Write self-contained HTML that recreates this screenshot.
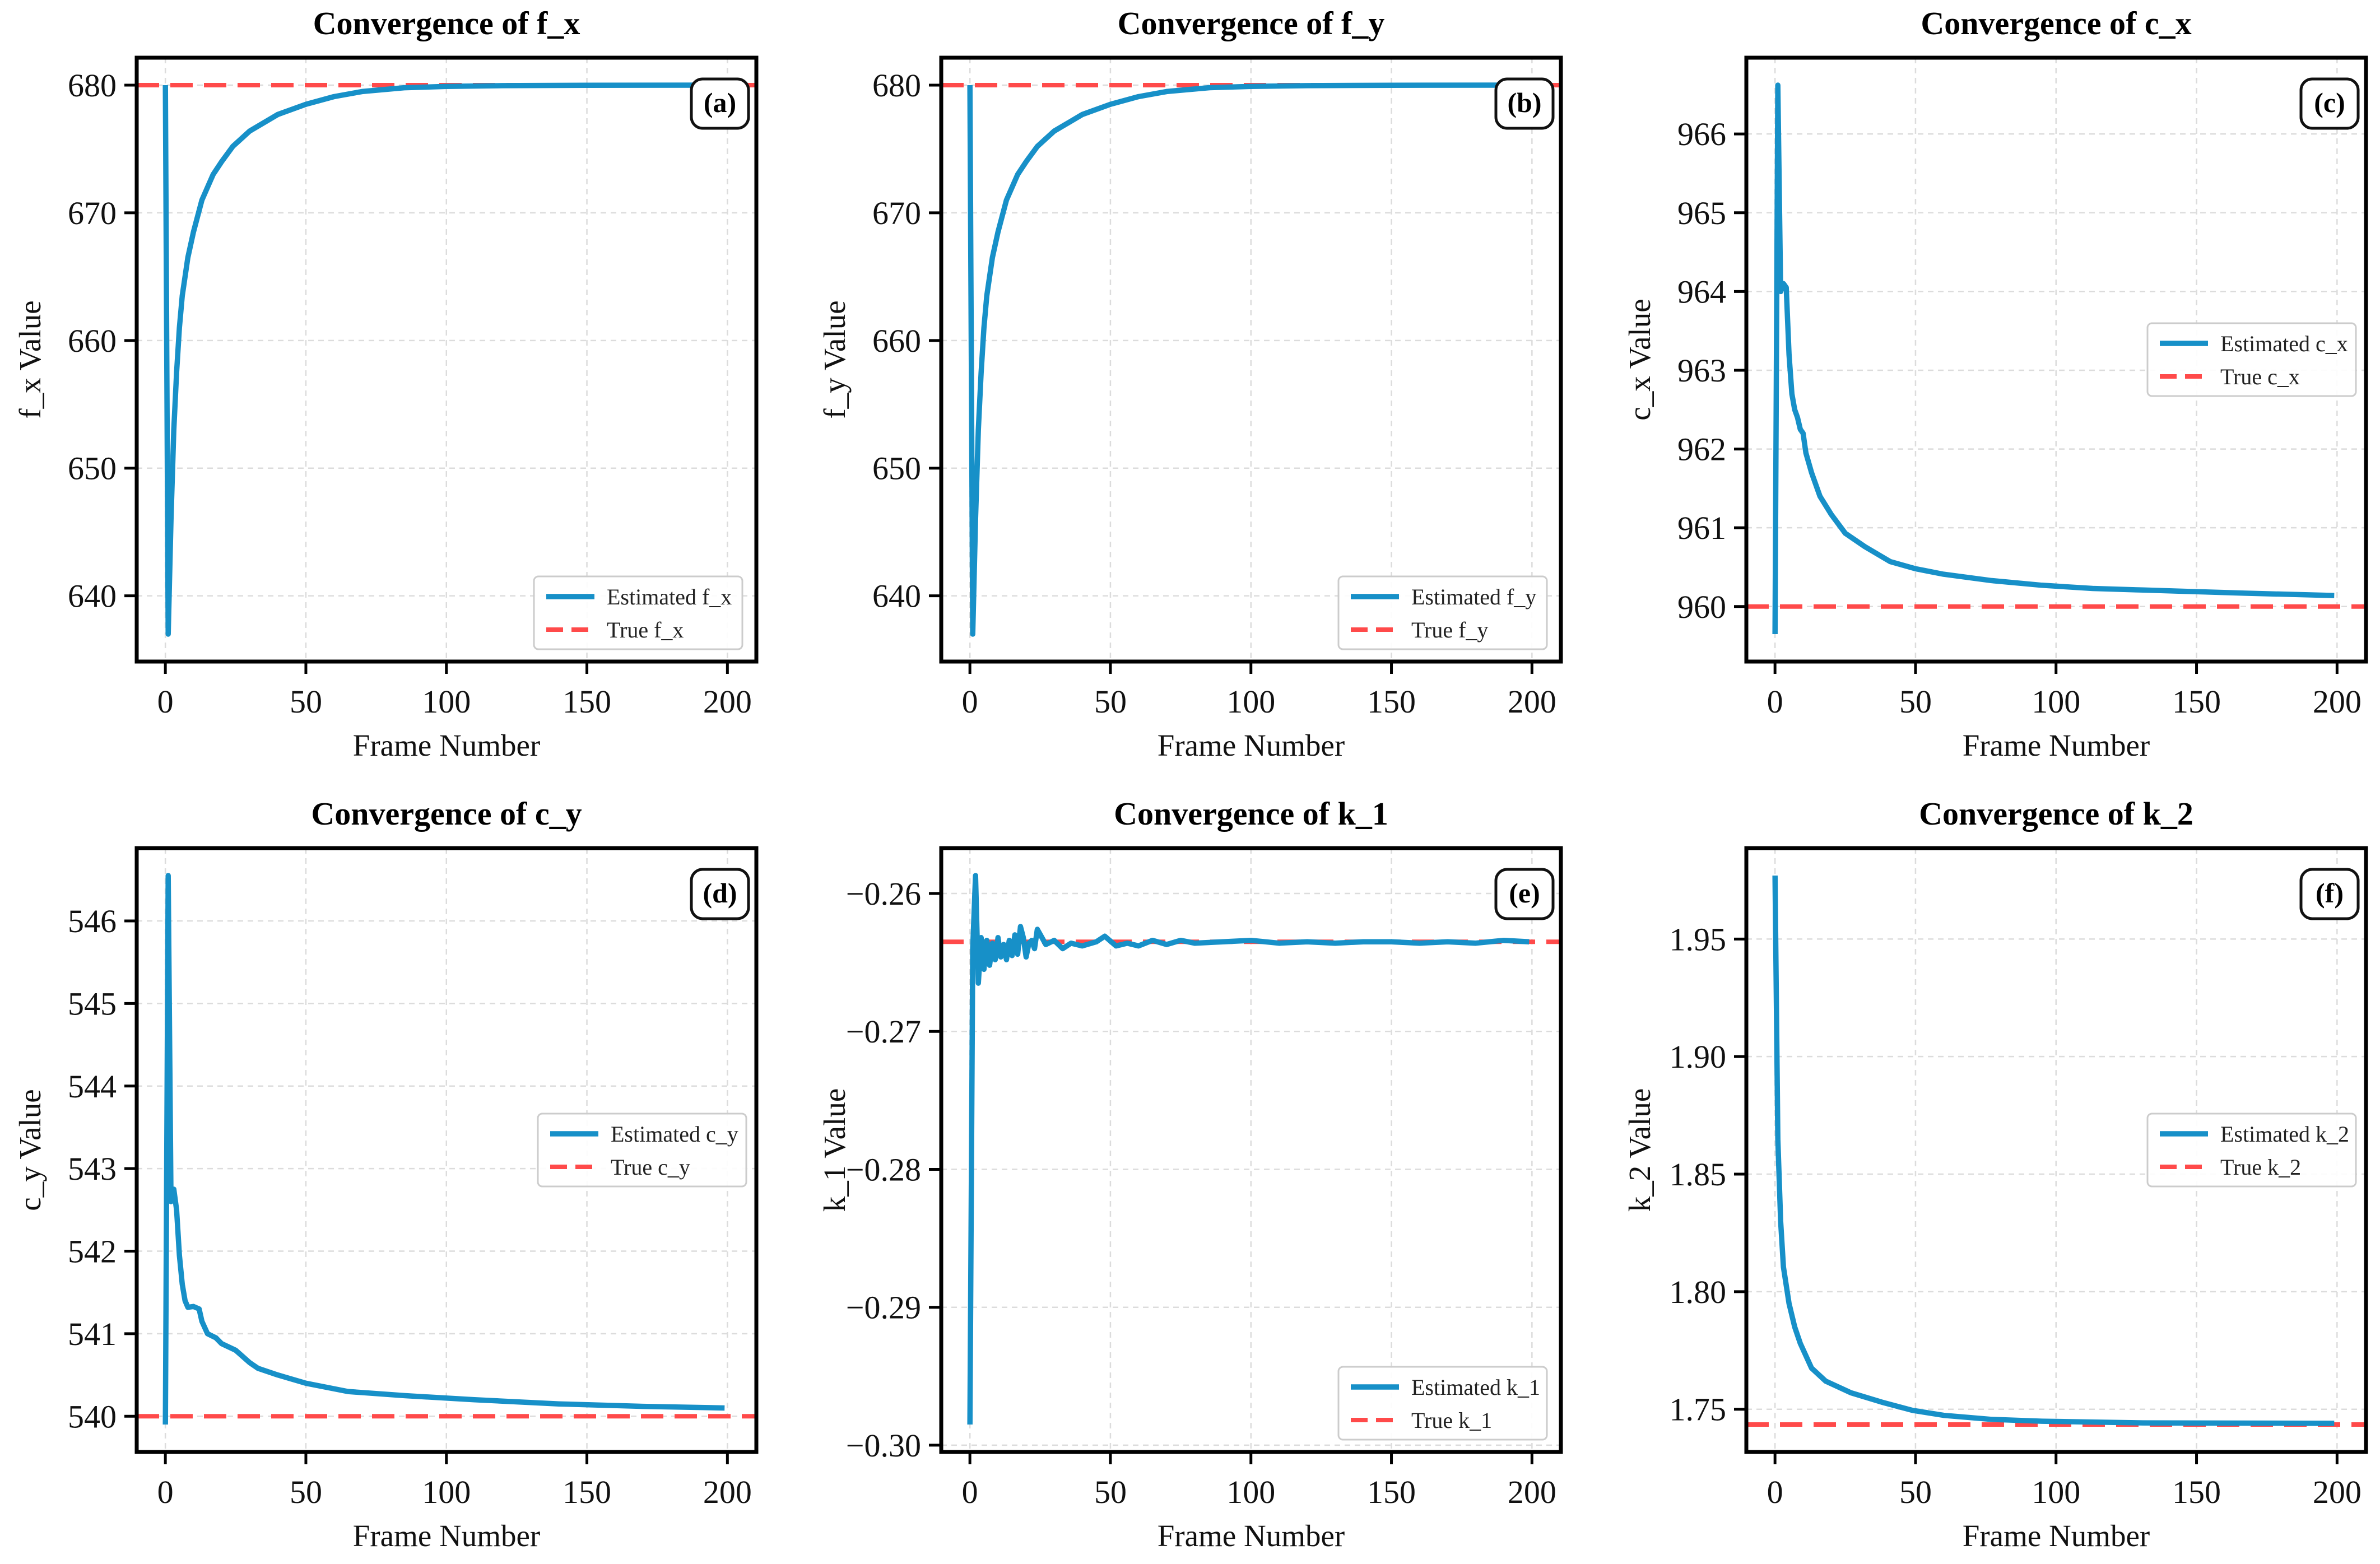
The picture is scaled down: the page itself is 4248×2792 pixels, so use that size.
<!DOCTYPE html>
<html><head><meta charset="utf-8"><style>
html,body{margin:0;padding:0;background:#fff;}
svg{display:block;font-family:"Liberation Serif","Times New Roman",serif;}
</style></head><body>
<svg id="fig" xmlns="http://www.w3.org/2000/svg" width="4248" height="2792" viewBox="0 0 4248 2792"></svg>
<script>
// ---- data ----
const xTicks = [0, 50, 100, 150, 200];
const fxFrames = [0,1,2,3,4,5,6,8,10,13,17,20,24,30,40,50,60,70,85,100,120,150,199];
const fxValues = [680,637,646,653,657.5,661,663.5,666.5,668.5,671,673,674,675.2,676.4,677.7,678.5,679.1,679.5,679.8,679.9,679.96,679.99,680];
const fxTrue = 680;
const fxTicks = [640,650,660,670,680];
const fyFrames = [0,1,2,3,4,5,6,8,10,13,17,20,24,30,40,50,60,70,85,100,120,150,199];
const fyValues = [680,637,646,653,657.5,661,663.5,666.5,668.5,671,673,674,675.2,676.4,677.7,678.5,679.1,679.5,679.8,679.9,679.96,679.99,680];
const fyTrue = 680;
const fyTicks = [640,650,660,670,680];
const cxFrames = [0,1,2,3,4,5,6,7,8,9,10,11,13,16,20,25,32,41,50,60,77,95,113,131,149,167,199];
const cxValues = [959.65,966.62,964.0,964.1,964.05,963.2,962.7,962.5,962.4,962.25,962.2,961.95,961.7,961.4,961.17,960.93,960.76,960.57,960.48,960.41,960.33,960.27,960.23,960.21,960.19,960.17,960.14];
const cxTrue = 960;
const cxTicks = [960,961,962,963,964,965,966];
const cyFrames = [0,1,2,3,4,5,6,7,8,10,12,13,15,18,20,25,30,33,40,50,65,85,110,140,170,199];
const cyValues = [539.9,546.55,542.6,542.75,542.5,541.95,541.6,541.4,541.32,541.33,541.3,541.15,541.0,540.95,540.88,540.8,540.65,540.58,540.5,540.4,540.3,540.25,540.2,540.15,540.12,540.1];
const cyTrue = 540;
const cyTicks = [540,541,542,543,544,545,546];
const k1Frames = [0,1,2,3,4,5,6,7,8,9,10,11,12,13,14,15,16,17,18,19,20,21,22,23,24,27,30,33,36,40,45,48,52,56,60,65,70,75,80,90,100,110,120,130,140,150,160,170,180,190,199];
const k1Values = [-0.2985,-0.2640,-0.2587,-0.2665,-0.2632,-0.2655,-0.2634,-0.2652,-0.2636,-0.2648,-0.2632,-0.2646,-0.2637,-0.2648,-0.2634,-0.2645,-0.2630,-0.2644,-0.2624,-0.2632,-0.2646,-0.2636,-0.2634,-0.2640,-0.2626,-0.2637,-0.2634,-0.2640,-0.2636,-0.2638,-0.2635,-0.2631,-0.2638,-0.2636,-0.2638,-0.2634,-0.2637,-0.2634,-0.2636,-0.2635,-0.2634,-0.2636,-0.2635,-0.2636,-0.2635,-0.2635,-0.2636,-0.2635,-0.2636,-0.2634,-0.2635];
const k1True = -0.2635;
const k1Ticks = [-0.30,-0.29,-0.28,-0.27,-0.26];
const k2Frames = [0,1,2,3,5,7,9,13,18,27,38,49,60,77,95,131,199];
const k2Values = [1.977,1.865,1.83,1.8105,1.795,1.785,1.778,1.7675,1.762,1.757,1.753,1.7495,1.7474,1.7457,1.7449,1.7442,1.744];
const k2True = 1.7435;
const k2Ticks = [1.75,1.80,1.85,1.90,1.95];

const panels = [
 {id:'a', name:'f_x', frames:fxFrames, vals:fxValues, tru:fxTrue, ticks:fxTicks, dec:0, col:0, row:0, leg:'lower'},
 {id:'b', name:'f_y', frames:fyFrames, vals:fyValues, tru:fyTrue, ticks:fyTicks, dec:0, col:1, row:0, leg:'lower'},
 {id:'c', name:'c_x', frames:cxFrames, vals:cxValues, tru:cxTrue, ticks:cxTicks, dec:0, col:2, row:0, leg:'center'},
 {id:'d', name:'c_y', frames:cyFrames, vals:cyValues, tru:cyTrue, ticks:cyTicks, dec:0, col:0, row:1, leg:'center'},
 {id:'e', name:'k_1', frames:k1Frames, vals:k1Values, tru:k1True, ticks:k1Ticks, dec:2, col:1, row:1, leg:'lower'},
 {id:'f', name:'k_2', frames:k2Frames, vals:k2Values, tru:k2True, ticks:k2Ticks, dec:2, col:2, row:1, leg:'center'}
];

const NS = 'http://www.w3.org/2000/svg';
const svg = document.getElementById('fig');
const colX = [244, 1680, 3117];
const rowY = [103, 1514];
const W = 1106, H = 1078;
const XMIN = -10.2, XMAX = 210.3;
const BLUE = '#1790c8', RED = '#ff4a4a';

function mk(tag, attrs, parent) {
  const e = document.createElementNS(NS, tag);
  for (const k in attrs) e.setAttribute(k, attrs[k]);
  parent.appendChild(e);
  return e;
}
function fmt(v, d) {
  const s = Math.abs(v).toFixed(d);
  return (v < 0 ? '\u2212' : '') + s;
}

panels.forEach(p => {
  const L = colX[p.col], T = rowY[p.row], R = L + W, B = T + H;
  const vmin = Math.min(...p.vals, p.tru), vmax = Math.max(...p.vals, p.tru);
  const m = (vmax - vmin) * 0.05;
  const y0 = vmin - m, y1 = vmax + m;
  const sx = v => L + (v - XMIN) / (XMAX - XMIN) * W;
  const sy = v => B - (v - y0) / (y1 - y0) * H;

  const g = mk('g', {}, svg);
  
  

  const clipId = 'clip-' + p.id;
  const cp = mk('clipPath', {id: clipId}, g);
  mk('rect', {x: L, y: T, width: W, height: H}, cp);

  xTicks.forEach(t => {
    const gl = mk('line', {x1: sx(t), x2: sx(t), y1: T, y2: B, stroke: '#dcdcdc', 'stroke-width': 2.5, 'stroke-dasharray': '10 8'}, g);
    
    
  });
  p.ticks.forEach(t => {
    const gl = mk('line', {x1: L, x2: R, y1: sy(t), y2: sy(t), stroke: '#dcdcdc', 'stroke-width': 2.5, 'stroke-dasharray': '10 8'}, g);
    
    
  });

  const tl = mk('line', {x1: L, x2: R, y1: sy(p.tru), y2: sy(p.tru), stroke: RED, 'stroke-width': 8, 'stroke-dasharray': '40 20'}, g);
  
  

  const pts = p.frames.map((f, i) => sx(f).toFixed(1) + ',' + sy(p.vals[i]).toFixed(1)).join(' ');
  const el = mk('polyline', {points: pts, fill: 'none', stroke: BLUE, 'stroke-width': 9.5, 'stroke-linejoin': 'round', 'clip-path': 'url(#' + clipId + ')'}, g);
  
  

  const fr = mk('rect', {x: L, y: T, width: W, height: H, fill: 'none', stroke: '#000', 'stroke-width': 7}, g);
  
  

  xTicks.forEach(t => {
    const tk = mk('line', {x1: sx(t), x2: sx(t), y1: B, y2: B + 22, stroke: '#000', 'stroke-width': 5}, g);
    
    
    const tx = mk('text', {x: sx(t), y: B + 91, 'font-size': 58, 'text-anchor': 'middle', fill: '#111'}, g);
    tx.textContent = String(t);
    
    
  });
  p.ticks.forEach(t => {
    const tk = mk('line', {x1: L - 22, x2: L, y1: sy(t), y2: sy(t), stroke: '#000', 'stroke-width': 5}, g);
    
    
    const tx = mk('text', {x: L - 36, y: sy(t) + 20, 'font-size': 58, 'text-anchor': 'end', fill: '#111'}, g);
    tx.textContent = fmt(t, p.dec);
    
    
  });

  const ti = mk('text', {x: L + W / 2, y: T - 42, 'font-size': 58, 'font-weight': 'bold', 'text-anchor': 'middle', fill: '#000'}, g);
  ti.textContent = 'Convergence of ' + p.name;
  
  
  const xl = mk('text', {x: L + W / 2, y: B + 168, 'font-size': 55, 'text-anchor': 'middle', fill: '#111'}, g);
  xl.textContent = 'Frame Number';
  
  
  const yc = T + H / 2, xc = L - 172;
  const yl = mk('text', {x: xc, y: yc, 'font-size': 55, 'text-anchor': 'middle', fill: '#111', transform: 'rotate(-90 ' + xc + ' ' + yc + ')'}, g);
  yl.textContent = p.name + ' Value';
  
  

  const lb = mk('g', {}, g);
  
  
  mk('rect', {x: R - 116, y: T + 38, width: 102, height: 88, rx: 20, fill: '#fff', stroke: '#111', 'stroke-width': 5}, lb);
  const lt = mk('text', {x: R - 65, y: T + 97, 'font-size': 50, 'font-weight': 'bold', 'text-anchor': 'middle', fill: '#000'}, lb);
  lt.textContent = '(' + p.id + ')';

  const LW = 372, LH = 130;
  let lx, ly;
  if (p.leg === 'lower') { lx = R - 25 - LW; ly = B - 22 - LH; }
  else { lx = R - 18 - LW; ly = T + H / 2 - LH / 2; }
  const lg = mk('g', {}, g);
  
  
  mk('rect', {x: lx, y: ly, width: LW, height: LH, rx: 8, fill: '#fff', 'fill-opacity': 0.9, stroke: '#cccccc', 'stroke-width': 3}, lg);
  const e1 = mk('line', {x1: lx + 22, x2: lx + 108, y1: ly + 36, y2: ly + 36, stroke: BLUE, 'stroke-width': 9.5}, lg);
  
  
  const t1 = mk('text', {x: lx + 130, y: ly + 50, 'font-size': 40, fill: '#222'}, lg);
  t1.textContent = 'Estimated ' + p.name;
  
  
  const e2 = mk('line', {x1: lx + 22, x2: lx + 108, y1: ly + 95, y2: ly + 95, stroke: RED, 'stroke-width': 8, 'stroke-dasharray': '30 15'}, lg);
  
  
  const t2 = mk('text', {x: lx + 130, y: ly + 109, 'font-size': 40, fill: '#222'}, lg);
  t2.textContent = 'True ' + p.name;
  
  
});
</script>
</body></html>
